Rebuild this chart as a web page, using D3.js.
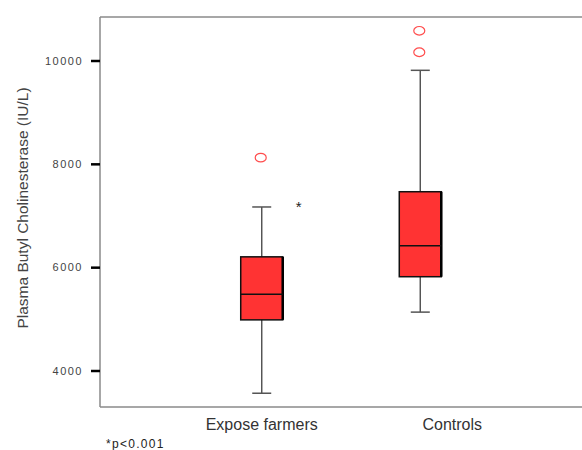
<!DOCTYPE html>
<meta charset="utf-8">
<body style="margin:0;background:#fff">
<script src="https://d3js.org/d3.v7.min.js"></script>
<svg></svg>
<script>
    var width = 582;
    var height = 450;

    // data
    var groups = ["Expose farmers", "Controls"];
    var whiskerLow = [3560, 5130];
    var q1 = [4980, 5815];
    var median = [5475, 6415];
    var q3 = [6200, 7460];
    var whiskerHigh = [7165, 9810];
    var outliers = [[8120], [10160, 10575]];
    var yTicks = [4000, 6000, 8000, 10000];

    var margin = {top: 17, left: 100, bottom: 407};

    var svg = d3.select("svg")
        .attr("width", width)
        .attr("height", height)
        .style("font-family", "'Liberation Sans', Arial, sans-serif");

    var y = d3.scaleLinear()
        .domain([4000, 10000])
        .range([370.5, 60.5]);

    var x = d3.scalePoint()
        .domain(groups)
        .range([margin.left, width])
        .padding(1.02);

    // frame lines (top, left, bottom)
    var frame = svg.append("g").attr("stroke", "#8a8a8a").attr("stroke-width", 1.5);
    frame.append("line").attr("x1", margin.left).attr("x2", width).attr("y1", margin.top).attr("y2", margin.top);
    frame.append("line").attr("x1", margin.left).attr("x2", width).attr("y1", margin.bottom).attr("y2", margin.bottom);
    frame.append("line").attr("x1", margin.left).attr("x2", margin.left).attr("y1", margin.top).attr("y2", margin.bottom);

    // y axis
    var yAxis = svg.append("g")
        .attr("transform", "translate(" + margin.left + ",0)")
        .call(d3.axisLeft(y).tickValues(yTicks).tickSize(9).tickPadding(8).tickFormat(d3.format("d")));
    yAxis.select(".domain").remove();
    yAxis.selectAll(".tick line").attr("stroke", "#000").attr("stroke-width", 2.5);
    yAxis.selectAll(".tick text")
        .attr("fill", "#444")
        .style("font-size", "11px")
        .style("letter-spacing", "1.5px");

    svg.append("text")
        .attr("transform", "translate(28,208) rotate(-90)")
        .attr("text-anchor", "middle")
        .attr("fill", "#444")
        .style("font-size", "15.5px")
        .text("Plasma Butyl Cholinesterase (IU/L)");

    var boxW = 42, capW = 19;

    var box = svg.selectAll(".box")
        .data(groups)
        .enter().append("g")
        .attr("class", "box");

    // whisker
    box.append("line")
        .attr("x1", function(d) { return x(d); })
        .attr("x2", function(d) { return x(d); })
        .attr("y1", function(d, i) { return y(whiskerLow[i]); })
        .attr("y2", function(d, i) { return y(whiskerHigh[i]); })
        .attr("stroke", "#555").attr("stroke-width", 1.5);
    box.append("line")
        .attr("x1", function(d) { return x(d) - capW / 2; })
        .attr("x2", function(d) { return x(d) + capW / 2; })
        .attr("y1", function(d, i) { return y(whiskerLow[i]); })
        .attr("y2", function(d, i) { return y(whiskerLow[i]); })
        .attr("stroke", "#555").attr("stroke-width", 1.5);
    box.append("line")
        .attr("x1", function(d) { return x(d) - capW / 2; })
        .attr("x2", function(d) { return x(d) + capW / 2; })
        .attr("y1", function(d, i) { return y(whiskerHigh[i]); })
        .attr("y2", function(d, i) { return y(whiskerHigh[i]); })
        .attr("stroke", "#555").attr("stroke-width", 1.5);

    // box
    box.append("rect")
        .attr("x", function(d) { return x(d) - boxW / 2; })
        .attr("width", boxW)
        .attr("y", function(d, i) { return y(q3[i]); })
        .attr("height", function(d, i) { return y(q1[i]) - y(q3[i]); })
        .attr("fill", "#ff3333")
        .attr("stroke", "#111")
        .attr("stroke-width", 1.5);
    // heavier right edge
    box.append("line")
        .attr("x1", function(d) { return x(d) + boxW / 2; })
        .attr("x2", function(d) { return x(d) + boxW / 2; })
        .attr("y1", function(d, i) { return y(q3[i]); })
        .attr("y2", function(d, i) { return y(q1[i]); })
        .attr("stroke", "#000").attr("stroke-width", 2.5);
    // median
    box.append("line")
        .attr("x1", function(d) { return x(d) - boxW / 2; })
        .attr("x2", function(d) { return x(d) + boxW / 2; })
        .attr("y1", function(d, i) { return y(median[i]); })
        .attr("y2", function(d, i) { return y(median[i]); })
        .attr("stroke", "#111").attr("stroke-width", 1.5);

    // outliers
    box.selectAll(".out")
        .data(function(d, i) { return outliers[i].map(function(v) { return {g: d, v: v}; }); })
        .enter().append("ellipse")
        .attr("cx", function(d) { return x(d.g) - 1; })
        .attr("cy", function(d) { return y(d.v); })
        .attr("rx", 5.5).attr("ry", 4.3)
        .attr("fill", "none")
        .attr("stroke", "#ff4d4d")
        .attr("stroke-width", 1.2);

    // significance mark
    svg.append("text")
        .attr("x", x(groups[0]) + 37)
        .attr("y", y(7165) + 5)
        .attr("text-anchor", "middle")
        .attr("fill", "#222")
        .style("font-size", "15px")
        .text("*");

    // category labels
    var labelShift = [0, 32];
    svg.selectAll(".cat")
        .data(groups)
        .enter().append("text")
        .attr("x", function(d, i) { return x(d) + labelShift[i]; })
        .attr("y", 430)
        .attr("text-anchor", "middle")
        .attr("fill", "#333")
        .style("font-size", "16px")
        .text(function(d) { return d; });

    svg.append("text")
        .attr("x", 106)
        .attr("y", 448)
        .attr("fill", "#222")
        .style("font-size", "12px")
        .style("letter-spacing", "1.3px")
        .text("*p<0.001");
</script>
